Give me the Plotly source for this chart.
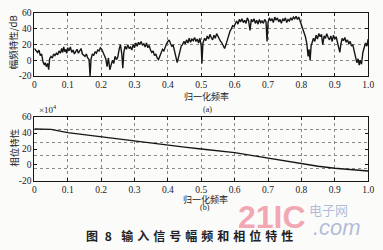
import plotly.graph_objects as go

W, H = 383, 250

# ---- data ----
freq_a = [0.000,0.005,0.010,0.014,0.018,0.022,0.026,0.030,0.033,0.036,0.040,0.043,0.046,0.050,0.054,0.058,
          0.062,0.066,0.070,0.074,0.078,0.082,0.085,0.088,0.091,0.094,0.097,0.100,0.104,0.108,0.112,0.116,
          0.120,0.124,0.128,0.132,0.136,0.140,0.144,0.148,0.152,0.156,0.160,0.164,0.167,0.170,0.174,0.178,
          0.182,0.186,0.190,0.194,0.198,0.202,0.206,0.210,0.214,0.218,0.222,0.226,0.230,0.234,0.238,0.242,
          0.246,0.250,0.254,0.258,0.262,0.265,0.268,0.272,0.276,0.280,0.284,0.288,0.292,0.296,0.300,0.304,
          0.308,0.312,0.316,0.320,0.324,0.328,0.332,0.336,0.340,0.344,0.348,0.352,0.356,0.360,0.364,0.368,
          0.372,0.376,0.380,0.384,0.388,0.392,0.396,0.400,0.404,0.408,0.412,0.416,0.420,0.424,0.428,0.432,
          0.436,0.440,0.444,0.448,0.452,0.456,0.460,0.464,0.468,0.472,0.476,0.480,0.484,0.488,0.492,0.496,
          0.500,0.502,0.505,0.510,0.514,0.518,0.522,0.526,0.530,0.534,0.538,0.542,0.546,0.550,0.554,0.558,
          0.562,0.566,0.570,0.574,0.578,0.582,0.586,0.590,0.594,0.598,0.602,0.606,0.610,0.614,0.618,0.622,
          0.626,0.630,0.634,0.638,0.642,0.646,0.650,0.654,0.658,0.662,0.666,0.670,0.674,0.678,0.682,0.686,
          0.690,0.694,0.697,0.700,0.704,0.708,0.712,0.716,0.720,0.724,0.728,0.732,0.736,0.740,0.744,0.748,
          0.752,0.756,0.760,0.764,0.768,0.772,0.776,0.780,0.784,0.788,0.792,0.796,0.800,0.804,0.808,0.812,
          0.816,0.820,0.823,0.826,0.829,0.832,0.836,0.840,0.844,0.848,0.852,0.856,0.860,0.864,0.868,0.872,
          0.876,0.880,0.884,0.888,0.892,0.896,0.900,0.904,0.908,0.912,0.915,0.918,0.922,0.926,0.930,0.934,
          0.938,0.942,0.946,0.950,0.954,0.958,0.962,0.966,0.970,0.973,0.976,0.980,0.984,0.988,0.992,0.996,
          1.000]
mag_db = [15,12,10,13,6,8,-2,-6,-3,-8,-4,-12,2,5,3,8,
          6,9,7,12,9,15,10,17,11,14,9,16,12,17,10,13,
          8,11,14,9,12,15,8,7,5,8,3,1,-20,2,8,6,
          11,9,13,12,16,14,10,6,2,-8,3,-12,-5,0,-4,5,
          1,4,14,20,8,-10,10,18,14,20,15,17,13,20,16,22,
          18,23,20,24,19,21,17,22,16,19,13,10,12,6,8,3,
          1,6,10,14,12,18,21,24,26,21,18,19,12,8,-3,4,
          12,18,20,24,21,26,22,28,23,27,25,29,24,27,22,28,
          18,-4,22,28,25,31,27,33,29,26,32,28,34,30,26,24,
          22,18,15,20,26,33,37,40,44,43,47,50,46,52,49,53,
          48,51,47,54,50,38,52,49,53,47,51,46,52,48,50,47,
          52,49,24,48,54,50,53,48,55,51,54,49,52,47,53,50,
          54,48,52,50,54,51,55,53,56,52,55,50,45,40,36,30,
          22,5,14,0,18,22,28,24,32,27,34,30,33,20,31,28,
          34,29,26,31,24,32,27,30,22,18,10,20,28,25,29,23,
          26,21,24,18,20,12,5,-3,2,-6,0,-5,10,16,22,18,
          27]

freq_b = [0.0,0.05,0.1,0.15,0.2,0.25,0.3,0.35,0.4,0.45,0.5,0.55,0.6,0.65,0.7,0.75,0.8,0.85,0.9,0.95,1.0]
phase = [45,44.6,40.5,37.8,35.5,33.2,30.5,27.2,24.3,22.3,20,18,15.5,12,8.5,5,1.5,-1.5,-4,-6,-7.5]

x_ticks = [0,0.1,0.2,0.3,0.4,0.5,0.6,0.7,0.8,0.9,1.0]
x_ticktext = ["0","0.1","0.2","0.3","0.4","0.5","0.6","0.7","0.8","0.9","1.0"]
y_ticks = [-20,0,20,40,60]
y_ticktext = ["-20","0","20","40","60"]
y_grid_b = [-4,12,28,44]

# ---- geometry helpers (pixels -> paper) ----
def px(x):
    return x / W

def py(y):
    return 1 - y / H

LINE = "#161616"
GRID = "#8a8a8a"
TICKFONT = dict(family="Liberation Serif", size=9.5, color="#222")
CJK = "Noto Sans CJK SC"

fig = go.Figure()
fig.add_trace(go.Scatter(x=freq_a, y=mag_db, mode="lines",
                         line=dict(color=LINE, width=1.4), xaxis="x", yaxis="y"))
fig.add_trace(go.Scatter(x=freq_b, y=phase, mode="lines",
                         line=dict(color=LINE, width=1.4), xaxis="x2", yaxis="y2"))

xcommon = dict(range=[0, 1], tickvals=x_ticks, ticktext=x_ticktext, tickfont=TICKFONT,
               showline=True, linecolor=LINE, linewidth=1, mirror="ticks",
               ticks="inside", ticklen=3, tickcolor=LINE,
               showgrid=True, gridcolor=GRID, griddash="dot", gridwidth=1, zeroline=False)
ycommon = dict(range=[-20, 60], tickvals=y_ticks, ticktext=y_ticktext, tickfont=TICKFONT,
               showline=True, linecolor=LINE, linewidth=1, mirror="ticks",
               ticks="inside", ticklen=3, tickcolor=LINE, zeroline=False)

xd = [px(33), px(374)]
fig.update_layout(
    width=W, height=H, margin=dict(l=0, r=0, t=0, b=0),
    paper_bgcolor="#fbfbfa", plot_bgcolor="#fbfbfa", showlegend=False,
    xaxis=dict(domain=xd, anchor="y", **xcommon),
    yaxis=dict(domain=[py(74), py(8.5)], anchor="x", showgrid=True, gridcolor=GRID,
               griddash="dot", gridwidth=1, **ycommon),
    xaxis2=dict(domain=xd, anchor="y2", **xcommon),
    yaxis2=dict(domain=[py(183.3), py(116.7)], anchor="x2", showgrid=False,
                minor=dict(tickvals=y_grid_b, showgrid=True, gridcolor=GRID,
                           griddash="dot", gridwidth=1, ticks=""),
                **ycommon),
)

def txt(x, y, s, size, angle=0, family=CJK, color="#222", **kw):
    fig.add_annotation(x=px(x), y=py(y), xref="paper", yref="paper", text=s,
                       showarrow=False, textangle=angle, xanchor="center", yanchor="middle",
                       font=dict(family=family, size=size, color=color), **kw)

txt(12, 39, "幅频特性/dB", 9.5, angle=-90)
txt(12, 148, "相位特性", 9.5, angle=-90)
txt(209, 95.5, "归一化频率", 9)
txt(210, 108.5, "(a)", 8, family="Liberation Serif")
txt(208, 202.5, "归一化频率", 9)
txt(207, 211, "(b)", 8, family="Liberation Serif")
txt(47, 108, "×10<sup>4</sup>", 9, family="Liberation Serif")

sp = "\u2004"
caption = sp.join(["图", " 8 ", " 输", "入", "信", "号", "幅", "频", "和", "相", "位", "特", "性"])
txt(191, 240.5, "<b>" + caption + "</b>", 12)

# watermark
txt(276, 221, "<b>21IC</b>", 32, family="Liberation Sans", color="rgba(236,112,132,0.62)")
txt(333, 212.5, "电子网", 13, family=CJK, color="rgba(150,168,205,0.75)")
txt(342, 231.5, "<i>.com</i>", 22, family="Liberation Sans", color="rgba(150,168,205,0.75)")

fig.write_html("out.html")
